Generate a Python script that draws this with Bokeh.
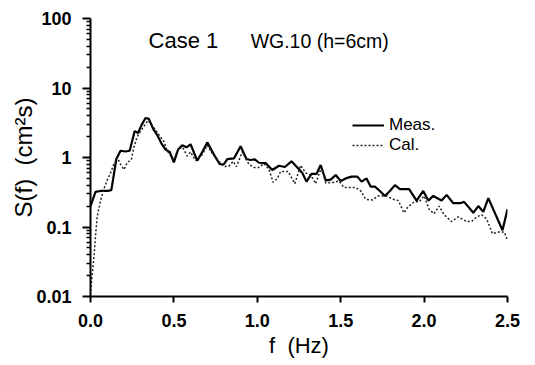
from bokeh.plotting import figure
from bokeh.models import (ColumnDataSource, FixedTicker, CustomJSTickFormatter,
                          PrintfTickFormatter, Legend, LegendItem, Label, Range1d)
from bokeh.embed import file_html
from bokeh.resources import INLINE

# ---- data ----
meas_f = [0.0, 0.03, 0.06, 0.1, 0.125, 0.155, 0.18, 0.21, 0.235, 0.265, 0.285, 0.305,
          0.33, 0.35, 0.375, 0.4, 0.425, 0.45, 0.475, 0.5, 0.525, 0.55, 0.575, 0.6,
          0.64, 0.67, 0.7, 0.74, 0.775, 0.8, 0.82, 0.86, 0.9, 0.935, 0.96, 0.985,
          1.01, 1.05, 1.09, 1.13, 1.165, 1.205, 1.24, 1.27, 1.295, 1.325, 1.355, 1.38,
          1.41, 1.44, 1.47, 1.5, 1.53, 1.565, 1.6, 1.625, 1.655, 1.68, 1.705, 1.735,
          1.765, 1.795, 1.825, 1.855, 1.91, 1.955, 1.995, 2.025, 2.055, 2.105, 2.135,
          2.175, 2.215, 2.24, 2.295, 2.325, 2.355, 2.385, 2.47, 2.5]
meas_s = [0.20, 0.32, 0.33, 0.33, 0.34, 0.95, 1.25, 1.22, 1.25, 2.4, 2.25, 2.9,
          3.7, 3.6, 2.6, 2.1, 1.6, 1.3, 1.2, 0.85, 1.3, 1.5, 1.4, 1.55,
          0.9, 1.2, 1.65, 1.1, 0.8, 0.8, 0.95, 0.97, 1.45, 0.95, 0.92, 0.94,
          0.84, 0.83, 0.66, 0.76, 0.73, 0.88, 0.72, 0.6, 0.45, 0.58, 0.58, 0.78,
          0.47, 0.48, 0.56, 0.46, 0.5, 0.53, 0.53, 0.45, 0.5, 0.38, 0.38, 0.33,
          0.28, 0.33, 0.4, 0.35, 0.35, 0.24, 0.33, 0.24, 0.28, 0.24, 0.29,
          0.22, 0.22, 0.23, 0.16, 0.2, 0.165, 0.26, 0.09, 0.18]

cal_f = [0.0, 0.01, 0.02, 0.03, 0.04, 0.06, 0.08, 0.1, 0.12, 0.14, 0.16, 0.18, 0.2,
         0.22, 0.245, 0.26, 0.28, 0.3, 0.345, 0.366, 0.405, 0.44, 0.46, 0.475, 0.5,
         0.525, 0.55, 0.58, 0.6, 0.63, 0.67, 0.7, 0.73, 0.77, 0.8, 0.83, 0.855, 0.875,
         0.91, 0.95, 0.98, 1.01, 1.04, 1.07, 1.095, 1.12, 1.14, 1.185, 1.225, 1.26,
         1.29, 1.32, 1.35, 1.375, 1.39, 1.41, 1.46, 1.49, 1.52, 1.59, 1.62, 1.65,
         1.69, 1.725, 1.775, 1.815, 1.845, 1.88, 1.9, 1.94, 1.97, 2.0, 2.03, 2.06,
         2.09, 2.12, 2.165, 2.205, 2.255, 2.285, 2.315, 2.345, 2.375, 2.41, 2.45,
         2.48, 2.5]
cal_s = [0.012, 0.02, 0.035, 0.075, 0.14, 0.24, 0.35, 0.47, 0.6, 0.8, 1.0, 0.8, 0.67,
         0.84, 0.94, 1.4, 2.0, 2.4, 3.4, 3.0, 2.2, 1.7, 1.25, 1.1, 0.92,
         1.3, 1.42, 1.05, 1.2, 0.9, 1.1, 1.5, 1.15, 0.88, 0.74, 0.75, 0.88, 0.74,
         1.2, 0.8, 0.72, 0.72, 0.82, 0.68, 0.44, 0.5, 0.63, 0.63, 0.42, 0.77,
         0.6, 0.56, 0.42, 0.63, 0.67, 0.43, 0.44, 0.46, 0.37, 0.37, 0.33, 0.25,
         0.245, 0.28, 0.28, 0.25, 0.24, 0.16, 0.19, 0.23, 0.23, 0.28, 0.18, 0.155,
         0.2, 0.15, 0.12, 0.14, 0.12, 0.12, 0.14, 0.15, 0.13, 0.08, 0.085,
         0.085, 0.065]

x_ticks = [0.0, 0.5, 1.0, 1.5, 2.0, 2.5]
y_ticks = [0.01, 0.1, 1, 10, 100]
series_names = ["Meas.", "Cal."]
case_text = "Case 1"
gauge_text = "WG.10 (h=6cm)"
x_title = "f \u00a0(Hz)"
y_title = "S(f) \u00a0(cm\u00b2s)"

FONT = "Liberation Sans"

p = figure(width=535, height=365, y_axis_type="log",
           x_range=Range1d(0, 2.5), y_range=Range1d(0.01, 100),
           output_backend="svg", toolbar_location=None,
           min_border_left=90, min_border_right=28,
           min_border_top=18, min_border_bottom=69)
p.outline_line_color = None
p.xgrid.visible = False
p.ygrid.visible = False
p.background_fill_color = "white"
p.border_fill_color = "white"

src_m = ColumnDataSource(dict(f=meas_f, s=meas_s))
src_c = ColumnDataSource(dict(f=cal_f, s=cal_s))
r_m = p.line("f", "s", source=src_m, line_color="black", line_width=2.2)
r_c = p.line("f", "s", source=src_c, line_color="#222222", line_width=1.5,
             line_dash="2 2")

# axes
minor = [m * 10.0 ** e for e in range(-2, 2) for m in range(2, 10)]
p.yaxis.ticker = FixedTicker(ticks=y_ticks, minor_ticks=minor)
p.yaxis.formatter = CustomJSTickFormatter(code="return tick >= 1 ? tick.toFixed(0) : String(tick);")
p.xaxis.ticker = FixedTicker(ticks=x_ticks, minor_ticks=[])
p.xaxis.formatter = PrintfTickFormatter(format="%.1f")

for ax in (p.xaxis, p.yaxis):
    ax.axis_line_width = 2
    ax.axis_line_color = "black"
    ax.major_tick_line_width = 2
    ax.major_tick_line_color = "black"
    ax.major_tick_in = 0
    ax.minor_tick_in = 0
    ax.major_label_text_font = FONT
    ax.major_label_text_font_size = "18px"
    ax.major_label_text_font_style = "bold"
    ax.major_label_text_color = "black"
    ax.axis_label_text_font = FONT
    ax.axis_label_text_font_style = "normal"
    ax.axis_label_text_color = "black"

p.yaxis.major_tick_out = 8
p.yaxis.minor_tick_out = 4
p.yaxis.minor_tick_line_width = 1.5
p.yaxis.minor_tick_line_color = "black"
p.yaxis.major_label_standoff = 11
p.yaxis.axis_label = y_title
p.yaxis.axis_label_text_font_size = "24px"
p.yaxis.axis_label_standoff = -4

p.xaxis.major_tick_out = 6
p.xaxis.minor_tick_out = 0
p.xaxis.major_label_standoff = 11
p.xaxis.axis_label = x_title
p.xaxis.axis_label_text_font_size = "22px"
p.xaxis.axis_label_standoff = 3

# legend
legend = Legend(items=[LegendItem(label=series_names[0], renderers=[r_m]),
                       LegendItem(label=series_names[1], renderers=[r_c])],
                location=(262, 141), orientation="vertical",
                border_line_alpha=0, background_fill_alpha=0,
                label_text_font=FONT, label_text_font_size="17px",
                label_text_color="black",
                glyph_width=32, glyph_height=18, label_height=18,
                label_standoff=5, spacing=0, padding=0, margin=0)
p.add_layout(legend)

# header texts
p.add_layout(Label(x=0.348, y=48.0, text=case_text, text_font=FONT,
                   text_font_size="22px", text_color="black",
                   text_baseline="alphabetic"))
p.add_layout(Label(x=0.96, y=48.0, text=gauge_text, text_font=FONT,
                   text_font_size="19.5px", text_color="black",
                   text_baseline="alphabetic"))

open("out.html", "w").write(file_html(p, INLINE))
